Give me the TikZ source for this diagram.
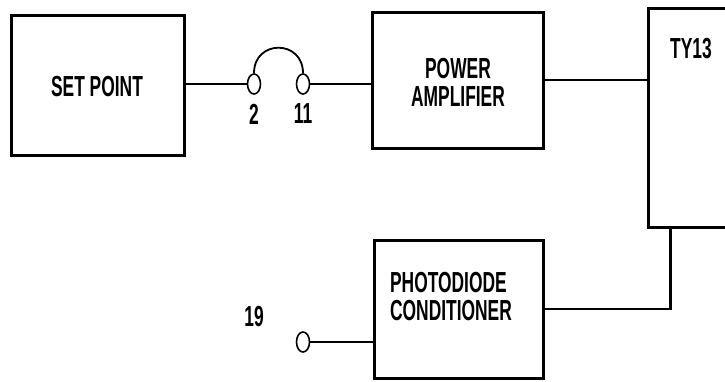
\documentclass[tikz,border=0pt]{standalone}
\usepackage{fontspec}
\setmainfont{Liberation Sans}[FakeStretch=0.6]
\usetikzlibrary{shapes.geometric}
\tikzset{
  blk/.style={draw, line width=3pt, inner sep=0pt},
  term/.style={draw, ellipse, line width=1.6pt, minimum width=13pt, minimum height=20pt, inner sep=0pt},
  lbl/.style={font=\fontsize{29}{28}\selectfont\bfseries, inner sep=0pt},
  wire/.style={line width=2.5pt}
}
\begin{document}
\begin{tikzpicture}[x=1pt,y=-1pt]
\path[use as bounding box, clip] (0,0) rectangle (725,381);
\fill[white] (0,0) rectangle (725,381);
% blocks
\node[blk, minimum width=173pt, minimum height=140pt] (sp) at (97.5,85.5) {};
\node[lbl] (spl) at (97,87) {SET POINT};
\node[blk, minimum width=171pt, minimum height=136pt] (pa) at (457.5,80) {};
\node[lbl, align=center] (pal) at (458,82) {POWER\\AMPLIFIER};
\node[blk, minimum width=130pt, minimum height=219pt] (ty) at (713,117.5) {};
\node[lbl] (tyl) at (691,49) {TY13};
\node[blk, minimum width=169pt, minimum height=138pt] (pd) at (458.5,309) {};
\node[lbl, align=left] (pdl) at (451,297) {PHOTODIODE\\CONDITIONER};
% terminals
\node[term] (t2) at (254,84) {};
\node[term] (t11) at (303,84) {};
\node[term] (t19) at (303,342) {};
\node[lbl] (l2) at (254,114) {2};
\node[lbl] (l11) at (303,114) {11};
\node[lbl] (l19) at (254,317) {19};
% connectors
\draw[wire] (t2.west) -- (t2.west -| sp.east);
\draw[line width=1.8pt] (t2.north) .. controls +(0,-34) and +(0,-34) .. (t11.north);
\draw[wire] (t11.east) -- (t11.east -| pa.west);
\draw[wire] (pa.east) -- (pa.east -| ty.west);
\coordinate (tyb) at ([xshift=24pt]ty.south west);
\draw[wire] (tyb) |- (pd.east);
\draw[wire] (t19.east) -- (t19.east -| pd.west);
\end{tikzpicture}
\end{document}
